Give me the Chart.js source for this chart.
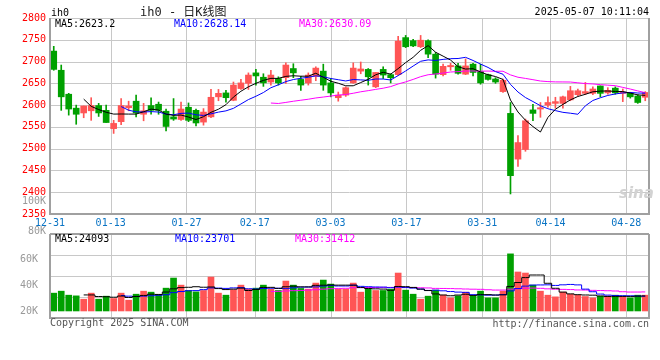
<!DOCTYPE html>
<html>
<head>
<meta charset="utf-8">
<script src="https://cdn.jsdelivr.net/npm/chart.js@4.4.1/dist/chart.umd.min.js"></script>
<style>
  body { margin: 0; background: #fff; }
  #wrap { position: relative; width: 660px; height: 360px; overflow: hidden;
          font-family: 'DejaVu Sans Mono', monospace; font-size: 10px; }
  #wrap canvas { position: absolute; left: 0; }
  .t { position: absolute; white-space: nowrap; line-height: 10px; }
</style>
</head>
<body>
<div id="wrap">
  <canvas id="kline" width="660" height="232" style="top:0"></canvas>
  <canvas id="vol" width="660" height="128" style="top:232px"></canvas>

  <span class="t" style="left:51px;top:8px">ih0</span>
  <span class="t" style="left:140px;top:6px;font-size:12px;line-height:12px;font-family:'DejaVu Sans Mono','Noto Sans CJK SC';color:#222">ih0 - 日K线图</span>
  <span class="t" style="right:11px;top:7px">2025-05-07 10:11:04</span>

  <span class="t" style="left:55px;top:19px;color:#000">MA5:2623.2</span>
  <span class="t" style="left:174px;top:19px;color:#0000ff">MA10:2628.14</span>
  <span class="t" style="left:299px;top:19px;color:#ff00ff">MA30:2630.09</span>

  <span class="t" style="right:614px;top:196px;color:#999">100K</span>
  <span class="t" style="right:614px;top:226px;color:#999">80K</span>
  <span class="t" style="left:619px;top:186px;font:italic bold 15px 'DejaVu Sans';line-height:15px;color:#d2d2d2">sina</span>

  <span class="t" style="left:55px;top:234px;color:#000">MA5:24093</span>
  <span class="t" style="left:175px;top:234px;color:#0000ff">MA10:23701</span>
  <span class="t" style="left:295px;top:234px;color:#ff00ff">MA30:31412</span>

  <span class="t" style="left:50px;top:318px;color:#555">Copyright 2025 SINA.COM</span>
  <span class="t" style="right:11px;top:319px;color:#555">http://finance.sina.com.cn</span>
</div>

<script>
// trading days shown on the chart
const dates = [
  '12-31','01-02','01-03','01-06','01-07','01-08','01-09','01-10','01-13','01-14',
  '01-15','01-16','01-17','01-20','01-21','01-22','01-23','01-24','01-27','02-05',
  '02-06','02-07','02-10','02-11','02-12','02-13','02-14','02-17','02-18','02-19',
  '02-20','02-21','02-24','02-25','02-26','02-27','02-28','03-03','03-04','03-05',
  '03-06','03-07','03-10','03-11','03-12','03-13','03-14','03-17','03-18','03-19',
  '03-20','03-21','03-24','03-25','03-26','03-27','03-28','03-31','04-01','04-02',
  '04-03','04-07','04-08','04-09','04-10','04-11','04-14','04-15','04-16','04-17',
  '04-18','04-21','04-22','04-23','04-24','04-25','04-28','04-29','04-30','05-06'
];
// which dates get a vertical grid line + label
const labelIdx = [0, 8, 18, 27, 37, 47, 57, 66, 76];

const opens = [
  2724,2680,2625,2593,2582,2587,2599,2588,2546,2562,
  2594,2609,2579,2599,2602,2586,2573,2567,2595,2588,
  2561,2573,2619,2628,2611,2638,2650,2674,2664,2653,
  2661,2663,2684,2659,2651,2666,2678,2651,2617,2623,
  2651,2678,2682,2642,2682,2670,2670,2755,2748,2734,
  2748,2717,2670,2688,2690,2671,2694,2677,2670,2660,
  2631,2581,2476,2498,2589,2591,2600,2604,2604,2612,
  2624,2627,2627,2644,2628,2639,2627,2627,2621,2618
];
const highs = [
  2735,2692,2627,2600,2598,2617,2604,2600,2565,2615,
  2609,2623,2604,2617,2607,2591,2615,2607,2605,2591,
  2592,2636,2636,2634,2653,2659,2674,2682,2672,2680,
  2665,2697,2695,2666,2674,2688,2694,2661,2630,2642,
  2697,2699,2684,2675,2688,2672,2758,2760,2751,2760,
  2750,2721,2694,2696,2696,2706,2696,2694,2671,2663,
  2660,2606,2530,2568,2602,2606,2619,2618,2621,2643,
  2637,2652,2642,2644,2640,2642,2637,2629,2624,2631
];
const lows = [
  2680,2588,2577,2556,2571,2565,2574,2560,2535,2555,
  2587,2573,2564,2579,2579,2541,2565,2565,2562,2552,
  2554,2571,2610,2607,2610,2636,2636,2646,2643,2646,
  2646,2650,2663,2634,2646,2656,2634,2619,2609,2620,
  2650,2672,2646,2640,2661,2651,2668,2732,2734,2732,
  2709,2662,2667,2680,2671,2670,2667,2648,2657,2650,
  2629,2396,2459,2494,2564,2572,2595,2593,2593,2610,
  2621,2624,2624,2619,2625,2625,2608,2616,2604,2610
];
const closes = [
  2682,2619,2591,2579,2598,2599,2582,2560,2558,2599,
  2598,2582,2587,2588,2588,2551,2568,2591,2565,2559,
  2584,2618,2627,2617,2646,2651,2669,2667,2651,2669,
  2651,2692,2674,2646,2669,2685,2646,2628,2623,2640,
  2685,2683,2665,2675,2669,2663,2747,2734,2736,2749,
  2717,2671,2689,2691,2673,2690,2675,2651,2659,2653,
  2657,2438,2514,2564,2581,2594,2606,2608,2619,2633,
  2633,2631,2637,2627,2634,2628,2630,2619,2606,2629
];

const ma5 = [null,null,null,null,
  2613.8,2597.2,2589.8,2583.6,2579.4,2579.6,2579.4,2579.4,2584.8,2590.8,
  2588.6,2579.2,2576.4,2577.2,2572.6,2566.8,2573.4,2583.4,2590.6,2601.0,
  2618.4,2631.8,2642.0,2650.0,2656.8,2661.4,2661.4,2666.0,2667.4,2666.4,
  2666.4,2673.2,2664.0,2654.8,2650.2,2644.4,2644.4,2651.8,2659.2,2669.6,
  2675.4,2671.0,2683.8,2697.6,2709.8,2725.8,2736.6,2721.4,2712.4,2703.4,
  2688.2,2682.8,2683.6,2676.0,2669.6,2665.6,2659.0,2611.6,2584.2,2565.2,
  2550.8,2538.2,2571.8,2590.6,2601.6,2612.0,2619.8,2624.8,2630.6,2632.2,
  2632.4,2631.4,2631.2,2627.6,2623.4,2622.4
];
const ma10 = [null,null,null,null,null,null,null,null,null,
  2596.7,2588.3,2584.6,2584.2,2585.1,2584.1,2579.3,2577.9,2581.0,2581.7,
  2577.7,2576.3,2579.9,2583.9,2586.8,2592.6,2602.6,2612.7,2620.3,2628.9,
  2639.9,2646.6,2654.0,2658.7,2661.6,2663.9,2667.3,2665.0,2661.1,2658.3,
  2655.4,2658.8,2657.9,2657.0,2659.9,2659.9,2657.7,2667.8,2678.4,2689.7,
  2700.6,2703.8,2702.6,2705.0,2706.6,2707.0,2709.7,2702.5,2694.2,2686.5,
  2676.9,2670.9,2647.6,2630.1,2617.4,2608.2,2598.6,2591.7,2587.4,2583.4,
  2581.4,2579.0,2598.3,2610.6,2616.9,2622.2,2625.6,2628.0,2629.1,2627.8,2627.4
];
const ma30 = [
  null,null,null,null,null,null,null,null,null,null,
  null,null,null,null,null,null,null,null,null,null,
  null,null,null,null,null,null,null,null,null,
  2604.8,2603.7,2606.2,2608.9,2611.2,2613.5,2616.4,2618.5,2620.8,2623.0,
  2624.3,2627.2,2630.6,2633.2,2636.1,2638.8,2642.5,2648.5,2653.3,2659.0,
  2665.3,2669.7,2671.5,2673.6,2676.0,2676.9,2678.2,2678.4,2677.9,2678.2,
  2677.6,2677.8,2669.4,2664.0,2661.3,2658.4,2655.3,2654.0,2653.3,2653.2,
  2653.0,2651.2,2649.5,2648.6,2647.0,2645.8,2644.6,2640.7,2636.9,2632.6,2628.6
];

// volume in thousands of lots
const volumeK = [
  28.9,32.1,25.6,24.5,19.1,28.9,19.1,24.0,20.2,28.9,
  17.4,27.2,32.1,30.5,26.7,37.0,53.4,41.9,33.2,31.0,
  33.2,55.0,28.9,25.6,34.3,41.9,35.4,37.0,41.9,35.4,
  33.2,48.5,41.9,36.5,35.4,45.2,50.1,43.6,35.4,35.4,
  45.2,30.5,35.4,33.2,33.2,35.4,61.5,33.8,27.2,19.1,
  24.0,33.8,25.6,21.2,24.5,30.5,24.0,32.1,21.2,21.2,
  32.1,92.6,63.2,61.5,41.9,32.1,25.6,22.9,30.5,27.2,
  25.6,23.4,21.2,24.0,24.0,25.6,23.4,21.2,25.6,25.6
];
const volMa5 = [null,null,null,null,
  26.0,26.0,23.4,23.1,22.3,24.2,21.9,23.5,25.2,27.2,
  26.8,30.7,35.9,37.9,38.4,39.3,38.5,38.9,36.3,34.7,
  35.4,37.1,33.2,34.8,38.1,38.3,36.6,39.2,40.2,39.1,
  39.1,41.5,41.8,42.2,41.9,41.9,41.9,38.0,36.4,35.9,
  35.5,33.5,39.7,39.4,38.2,35.4,33.1,27.6,25.9,24.7,
  25.8,27.1,25.2,26.5,26.5,25.8,26.1,39.8,46.1,54.1,
  58.3,58.3,44.9,36.8,30.6,27.7,26.4,25.9,25.6,24.3,
  23.6,23.6,23.6,23.6,24.0,24.3
];
const volMa10 = [null,null,null,null,null,null,null,null,null,
  25.1,24.0,23.5,24.1,24.7,25.5,26.3,29.7,31.5,32.8,
  33.0,34.6,37.4,37.1,36.6,37.4,37.8,36.0,35.6,36.4,
  36.9,36.9,36.2,37.5,38.6,38.7,39.0,40.5,41.2,40.5,
  40.5,41.7,39.9,39.3,38.9,38.7,37.7,38.9,37.9,37.1,
  35.5,33.3,33.7,32.7,31.5,30.6,30.1,26.4,26.2,25.6,
  25.8,26.6,32.5,36.3,40.3,42.0,42.2,42.4,41.4,42.4,
  43.0,42.3,35.4,31.2,27.4,25.7,25.0,24.8,24.6,24.1,24.0
];
const volMa30 = [
  null,null,null,null,null,null,null,null,null,null,
  null,null,null,null,null,null,null,null,null,null,
  null,null,null,null,null,null,null,null,null,
  31.7,31.8,32.4,32.9,33.3,33.9,34.4,35.4,36.1,36.6,
  36.8,37.7,37.8,38.0,38.0,38.3,38.2,38.5,38.2,38.0,
  37.6,37.3,36.6,36.5,36.3,36.0,35.6,35.3,35.1,34.4,
  33.9,33.9,35.4,36.1,36.9,37.1,36.7,35.9,35.2,35.0,
  34.7,34.1,33.9,33.4,33.1,32.8,32.4,31.2,30.7,30.7,30.9
];

const RED = '#ff5555', GREEN = '#00a000', GRID = '#c8c8c8';
const mono = { family: 'DejaVu Sans Mono', size: 10 };
const upDown = ctx => closes[ctx.dataIndex] >= opens[ctx.dataIndex] ? RED : GREEN;

// grid lines behind the marks + solid grey box round each panel
const framePlugin = {
  id: 'frame',
  beforeDatasetsDraw(chart, args, opts) {
    const { ctx, chartArea: a } = chart;
    const xg = chart.scales.xg;
    const ys = chart.scales[opts.yScale];
    ctx.save();
    ctx.strokeStyle = GRID;
    ctx.lineWidth = 1;
    ctx.beginPath();
    xg.ticks.forEach(t => {
      const x = Math.round(xg.getPixelForValue(t.value)) + 0.5;
      ctx.moveTo(x, a.top);
      ctx.lineTo(x, a.bottom);
    });
    ys.ticks.forEach(t => {
      const y = Math.round(ys.getPixelForValue(t.value)) + 0.5;
      ctx.moveTo(a.left, y);
      ctx.lineTo(a.right, y);
    });
    ctx.stroke();
    ctx.restore();
  },
  afterDatasetsDraw(chart, args, opts) {
    const { ctx, chartArea: a } = chart;
    ctx.save();
    ctx.strokeStyle = '#a0a0a0';
    ctx.lineWidth = 2;
    ctx.beginPath();
    if (opts.top) { ctx.moveTo(a.left, a.top); ctx.lineTo(a.right, a.top); }
    ctx.moveTo(a.left, a.top);
    ctx.lineTo(a.left, a.bottom);
    ctx.lineTo(a.right, a.bottom);
    ctx.lineTo(a.right, a.top);
    ctx.stroke();
    ctx.restore();
  }
};

// no extra layout room for overflowing tick labels
const noPad = s => { s.paddingTop = 0; s.paddingBottom = 0; s.paddingLeft = 0; s.paddingRight = 0; };

// date axis that places the vertical lines and their labels
function gridAxis(showLabels) {
  return {
    type: 'linear', position: 'bottom', min: 0, max: dates.length - 1,
    offset: false,
    afterBuildTicks: s => { s.ticks = labelIdx.map(v => ({ value: v })); },
    afterFit: s => { s.height = showLabels ? 18 : 0; noPad(s); },
    grid: { display: false, drawTicks: false, offset: false },
    border: { display: false },
    ticks: {
      display: showLabels, autoSkip: false, maxRotation: 0, padding: 3,
      color: '#0a74c4', font: mono, callback: v => dates[v]
    }
  };
}

function maLine(label, data, color, axis, stepped) {
  return {
    type: 'line', label: label, data: data, yAxisID: axis,
    borderColor: color, borderWidth: 1, pointRadius: 0,
    stepped: stepped ? 'middle' : false, order: 0
  };
}

document.addEventListener('DOMContentLoaded', function(event) {
  const ctx1 = document.getElementById('kline').getContext('2d');
  const kline = new Chart(ctx1, {
    type: 'bar',
    data: {
      labels: dates,
      datasets: [
        maLine('MA5', ma5, '#000000', 'y'),
        maLine('MA10', ma10, '#0000ff', 'y'),
        maLine('MA30', ma30, '#ff00ff', 'y'),
        {
          label: 'body', data: opens.map((o, i) => [o, closes[i]]), yAxisID: 'y',
          backgroundColor: upDown, barThickness: 6, minBarLength: 1, grouped: false, order: 1
        },
        {
          label: 'wick', data: lows.map((l, i) => [l, highs[i]]), yAxisID: 'y',
          backgroundColor: upDown, barThickness: 1, grouped: false, order: 2
        }
      ]
    },
    options: {
      responsive: false,
      animation: false,
      events: [],
      layout: { padding: { top: 18, right: 11, bottom: 0, left: 0 } },
      plugins: {
        legend: { display: false }, tooltip: { enabled: false },
        frame: { top: false, yScale: 'y' }
      },
      scales: {
        x: { type: 'category', display: false, offset: true },
        xg: gridAxis(true),
        y: {
          type: 'linear', position: 'left', min: 2350, max: 2800,
          afterFit: s => { s.width = 50; noPad(s); },
          ticks: { stepSize: 50, color: '#ff0000', padding: 4, font: mono, callback: v => String(v) },
          grid: { display: false, drawTicks: false },
          border: { display: false }
        }
      }
    },
    plugins: [framePlugin]
  });

  const ctx2 = document.getElementById('vol').getContext('2d');
  const vol = new Chart(ctx2, {
    type: 'bar',
    data: {
      labels: dates,
      datasets: [
        maLine('MA5', volMa5, '#000000', 'yv', true),
        maLine('MA10', volMa10, '#0000ff', 'yv', true),
        maLine('MA30', volMa30, '#ff00ff', 'yv', true),
        {
          label: 'volume', data: volumeK, yAxisID: 'yv',
          backgroundColor: upDown, barThickness: 6, order: 1
        }
      ]
    },
    options: {
      responsive: false,
      animation: false,
      events: [],
      layout: { padding: { top: 2, right: 11, bottom: 42, left: 0 } },
      plugins: {
        legend: { display: false }, tooltip: { enabled: false },
        frame: { top: true, yScale: 'yv' }
      },
      scales: {
        x: { type: 'category', display: false, offset: true },
        xg: gridAxis(false),
        yv: {
          type: 'linear', position: 'right', min: -11.4, max: 124.8,
          afterFit: s => { s.width = 0; noPad(s); },
          ticks: { display: false, stepSize: 34.05 },
          grid: { display: false, drawTicks: false },
          border: { display: false }
        },
        yl: {
          type: 'linear', position: 'left', min: 15, max: 80,
          afterFit: s => { s.width = 50; noPad(s); },
          ticks: {
            stepSize: 20, includeBounds: false, color: '#999999', padding: 4, font: mono,
            callback: v => (v < 80 ? v + 'K' : '')
          },
          grid: { display: false },
          border: { display: false }
        }
      }
    },
    plugins: [framePlugin]
  });
});
</script>
</body>
</html>
